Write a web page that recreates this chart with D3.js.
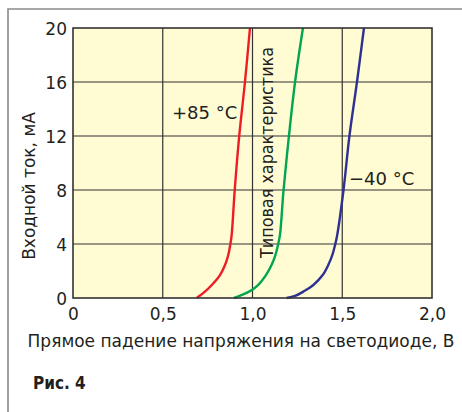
<!DOCTYPE html>
<html><head><meta charset="utf-8">
<script src="https://cdn.jsdelivr.net/npm/d3@7"></script>
<style>html,body{margin:0;padding:0;background:#fff;} svg{display:block;}</style>
</head><body>
<svg id="c" width="462" height="412"></svg>
<script>
const xTicks = [0, 0.5, 1.0, 1.5, 2.0];
const xTickLabels = ["0", "0,5", "1,0", "1,5", "2,0"];
const yTicks = [0, 4, 8, 12, 16, 20];
const yTickLabels = ["0", "4", "8", "12", "16", "20"];

// current, mA
const currentHot = [0, 0.47, 0.96, 1.7, 2.44, 3.19, 3.93, 4.67, 8, 12, 16, 20];
const voltageHot = [0.689, 0.735, 0.773, 0.819, 0.847, 0.865, 0.876, 0.884, 0.901, 0.926, 0.958, 0.986];
const currentTyp = [0, 0.47, 0.96, 1.7, 2.44, 3.19, 3.93, 4.67, 8, 12, 16, 20];
const voltageTyp = [0.897, 0.981, 1.031, 1.075, 1.106, 1.128, 1.142, 1.153, 1.173, 1.203, 1.237, 1.281];
const currentCold = [0, 0.15, 0.47, 0.96, 1.7, 2.44, 3.19, 3.93, 4.67, 8, 12, 16, 20];
const voltageCold = [1.19, 1.237, 1.283, 1.339, 1.391, 1.422, 1.445, 1.460, 1.472, 1.507, 1.540, 1.582, 1.621];

const svg = d3.select("#c");
const font = "'DejaVu Sans', sans-serif";
const x = d3.scaleLinear().domain([0, 2]).range([73, 432]);
const y = d3.scaleLinear().domain([0, 20]).range([298, 28]);

// frame
svg.append("path").attr("d", "M8,412 L8,9 L462,9").attr("fill", "none")
  .attr("stroke", "#8a8a8a").attr("stroke-width", 1.6);

// plot background
svg.append("rect").attr("x", x(0)).attr("y", y(20)).attr("width", x(2) - x(0)).attr("height", y(0) - y(20))
  .attr("fill", "#fffbd3");

// grid
svg.append("g").selectAll("line").data(xTicks.slice(1, -1)).join("line")
  .attr("x1", d => x(d)).attr("x2", d => x(d)).attr("y1", y(0)).attr("y2", y(20))
  .attr("stroke", "#333").attr("stroke-width", 1.2);
svg.append("g").selectAll("line").data(yTicks.slice(1, -1)).join("line")
  .attr("x1", x(0)).attr("x2", x(2)).attr("y1", d => y(d)).attr("y2", d => y(d))
  .attr("stroke", "#333").attr("stroke-width", 1.2);

// curves
const line = d3.line().x(d => x(d[0])).y(d => y(d[1])).curve(d3.curveCatmullRom.alpha(0.5));
const series = [
  [voltageHot, currentHot, "#ee1c25"],
  [voltageTyp, currentTyp, "#00a651"],
  [voltageCold, currentCold, "#2e3192"]
];
series.forEach(([v, c, col]) => {
  svg.append("path").datum(v.map((d, i) => [d, c[i]])).attr("d", line)
    .attr("fill", "none").attr("stroke", col).attr("stroke-width", 2.4)
    .attr("stroke-linejoin", "round");
});

// plot border
svg.append("rect").attr("x", x(0)).attr("y", y(20)).attr("width", x(2) - x(0)).attr("height", y(0) - y(20))
  .attr("fill", "none").attr("stroke", "#333").attr("stroke-width", 1.6);

// axes labels
const xa = svg.append("g").attr("transform", `translate(0,${y(0) + 7})`)
  .call(d3.axisBottom(x).tickValues(xTicks).tickFormat((d, i) => xTickLabels[i]).tickSize(0));
xa.select(".domain").remove();
xa.selectAll("text").attr("font-family", font).attr("font-size", 17).attr("fill", "#231f20").attr("dy", "0.71em");

const ya = svg.append("g").attr("transform", `translate(${x(0) - 6},0)`)
  .call(d3.axisLeft(y).tickValues(yTicks).tickFormat((d, i) => yTickLabels[i]).tickSize(0));
ya.select(".domain").remove();
ya.selectAll("text").attr("font-family", font).attr("font-size", 17).attr("fill", "#231f20").attr("x", 0).attr("dy", "0.38em");

// titles
svg.append("text").attr("x", 241).attr("y", 347).attr("text-anchor", "middle")
  .attr("font-family", font).attr("font-size", 17).attr("fill", "#231f20")
  .text("Прямое падение напряжения на светодиоде, В");
svg.append("text").attr("transform", "translate(35,186) rotate(-90)").attr("text-anchor", "middle")
  .attr("font-family", font).attr("font-size", 17).attr("fill", "#231f20")
  .text("Входной ток, мА");

// annotations
svg.append("text").attr("x", 172).attr("y", 119).attr("font-family", font).attr("font-size", 18).attr("fill", "#231f20").text("+85 °C");
svg.append("text").attr("x", 349).attr("y", 185).attr("font-family", font).attr("font-size", 18).attr("fill", "#231f20").text("−40 °C");
svg.append("text").attr("transform", "translate(273,258) rotate(-90)")
  .attr("font-family", font).attr("font-size", 18).attr("fill", "#231f20")
  .attr("textLength", 211).attr("lengthAdjust", "spacingAndGlyphs")
  .text("Типовая характеристика");

svg.append("text").attr("x", 33).attr("y", 389).attr("font-family", "'DejaVu Sans Condensed', 'DejaVu Sans', sans-serif")
  .attr("font-weight", "bold").attr("font-size", 17).attr("fill", "#231f20").text("Рис. 4");
</script>
</body></html>
